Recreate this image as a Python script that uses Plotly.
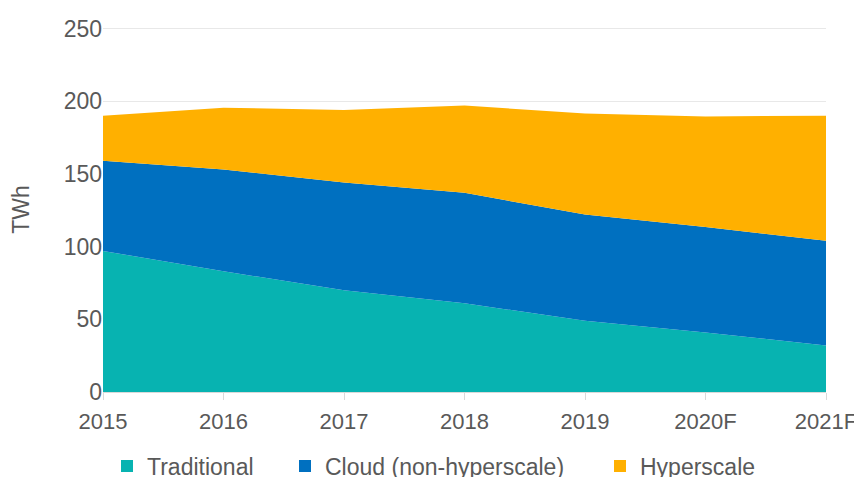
import plotly.graph_objects as go

years = ["2015", "2016", "2017", "2018", "2019", "2020F", "2021F"]
traditional = [97, 83, 70, 61, 49, 41, 32]
cloud = [62, 70, 74, 76, 73, 72.5, 72]
hyperscale = [31, 42.5, 50, 60, 69.5, 76, 86]
y_ticks = [0, 50, 100, 150, 200, 250]

series = [
    ("Traditional", traditional, "#07B3B1", "legend"),
    ("Cloud (non-hyperscale)", cloud, "#0070C0", "legend2"),
    ("Hyperscale", hyperscale, "#FFB000", "legend3"),
]

FONT = "Liberation Sans, Arial, sans-serif"
GRAY = "#595959"
FS = 23

fig = go.Figure()
for name, vals, color, lg in series:
    fig.add_trace(go.Scatter(
        x=years, y=vals, name=name, stackgroup="one", mode="none",
        fillcolor=color, line=dict(width=0), showlegend=False,
    ))
for name, vals, color, lg in series:
    fig.add_trace(go.Scatter(
        x=[None], y=[None], name=name, mode="markers",
        marker=dict(symbol="square", size=12, color=color),
        legend=lg, showlegend=True,
    ))

# page body has an 8px offset; figure sized to fit the 862x477 window
W, H = 854, 469
l, r, t, b = 95, 36, 19, 85
pw = W - l - r
ph = H - t - b

def lx(px):
    return (px - l) / pw

leg_common = dict(orientation="h", yanchor="middle", xanchor="left",
                  y=-(458 - (H - b)) / ph, font=dict(family=FONT, size=FS, color=GRAY),
                  bgcolor="rgba(0,0,0,0)", borderwidth=0, itemwidth=30)

fig.update_layout(
    width=W, height=H,
    margin=dict(l=l, r=r, t=t, b=b, autoexpand=False),
    plot_bgcolor="white", paper_bgcolor="white",
    font=dict(family=FONT, size=FS, color=GRAY),
    legend=dict(x=lx(99), **leg_common),
    legend2=dict(x=lx(277), **leg_common),
    legend3=dict(x=lx(592), **leg_common),
    xaxis=dict(
        type="category", range=[0, 6], showgrid=False,
        showline=True, linecolor="#D9D9D9", linewidth=1,
        ticks="outside", ticklen=7, tickcolor="#D9D9D9",
        ticklabelstandoff=3,
        tickfont=dict(family=FONT, size=22, color=GRAY),
    ),
    yaxis=dict(
        range=[0, 251], tickvals=y_ticks, showgrid=True, gridcolor="#E8E8E8",
        gridwidth=1, zeroline=False, showline=False, ticks="",
        tickfont=dict(family=FONT, size=FS, color=GRAY),
        title=dict(text="TWh", font=dict(family=FONT, size=FS, color=GRAY), standoff=36),
    ),
)

fig.write_html("out.html")
